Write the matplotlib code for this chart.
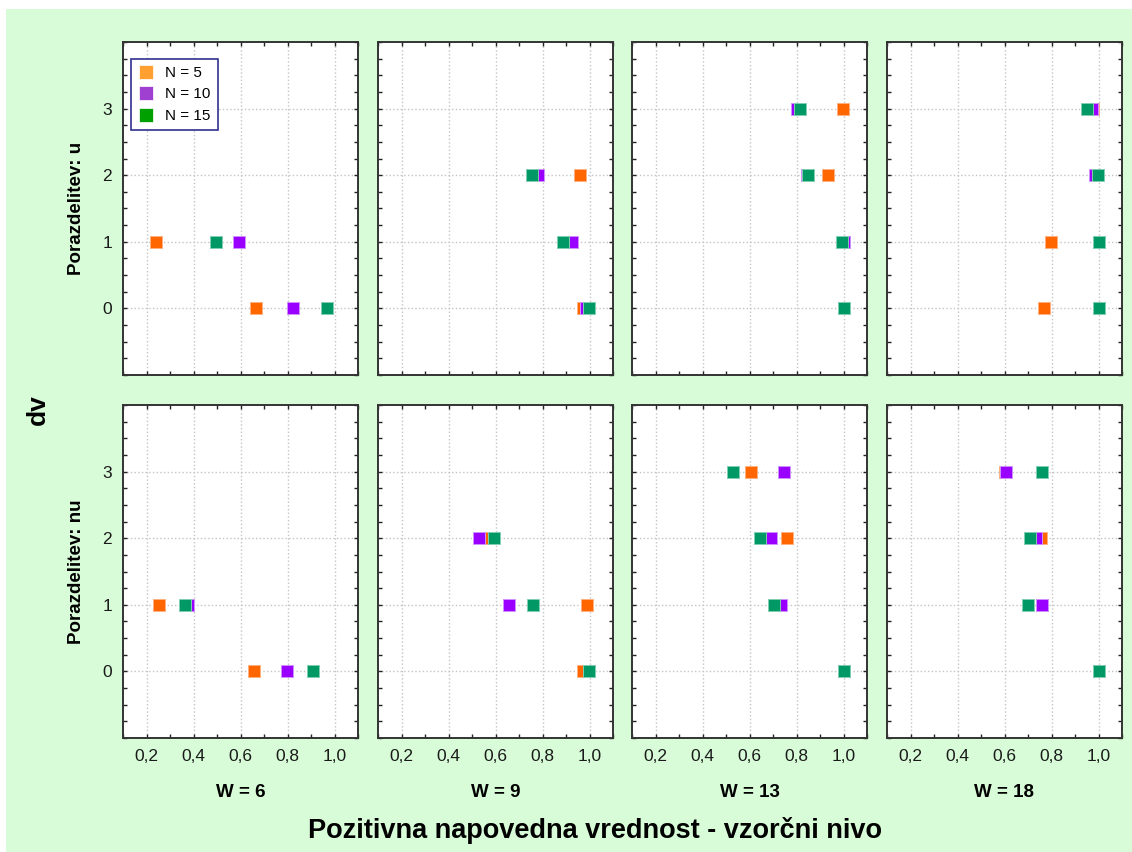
import numpy as np
import matplotlib.pyplot as plt
from matplotlib.lines import Line2D
from matplotlib.patches import Rectangle
from matplotlib.ticker import FixedLocator, MultipleLocator

plt.rcParams['font.family'] = ['Liberation Sans', 'DejaVu Sans']

####  data  ####
widths = [6, 9, 13, 18]
dists = ['u', 'nu']
n_labels = ['N = 5', 'N = 10', 'N = 15']

# one list per W, values for dv = 0, 1, 2, 3
n5_u = [[0.664, 0.241], [0.971, 0.905, 0.959], [1.0, 1.0, 0.933, 0.997], [0.767, 0.799, 0.990, 0.976]]
n10_u = [[0.825, 0.594], [0.984, 0.926, 0.779], [1.0, 1.0, 0.843, 0.804], [1.0, 1.0, 0.985, 0.972]]
n15_u = [[0.970, 0.497], [0.996, 0.889, 0.754], [1.0, 0.993, 0.849, 0.817], [1.0, 1.0, 0.997, 0.953]]

n5_nu = [[0.658, 0.254], [0.971, 0.990, 0.541], [1.0, 0.720, 0.760, 0.606], [1.0, 0.760, 0.754, 0.600]]
n10_nu = [[0.799, 0.376], [0.996, 0.658, 0.529], [1.0, 0.735, 0.691, 0.746], [1.0, 0.760, 0.735, 0.607]]
n15_nu = [[0.908, 0.364], [0.996, 0.760, 0.592], [1.0, 0.703, 0.645, 0.529], [1.0, 0.702, 0.709, 0.760]]

series = {'u': [n5_u, n10_u, n15_u], 'nu': [n5_nu, n10_nu, n15_nu]}

colors = ['#ff6600', '#9900ff', '#009966']
edge_colors = ['#ffb080', '#d090ff', '#80d0b0']
legend_colors = ['#ffa030', '#a040d0', '#00a000']

####  figure  ####
fig = plt.figure(figsize=(11.32, 8.52), dpi=100, facecolor='white')
fig.patches.append(Rectangle((6 / 1132, 0), 1, 1 - 9 / 852, transform=fig.transFigure,
                             facecolor='#d8fcd8', edgecolor='none', zorder=-10))

col_left = [123, 378, 632, 887]
row_top = [42, 405]
ax_w, ax_h = 235, 333

for r, dist in enumerate(dists):
    for c, w in enumerate(widths):
        x0 = col_left[c] / 1132
        y0 = 1 - (row_top[r] + ax_h) / 852
        ax = fig.add_axes([x0, y0, ax_w / 1132, ax_h / 852])
        ax.set_facecolor('white')
        for k in range(3):
            vals = series[dist][k][c]
            ax.plot(vals, np.arange(len(vals)), 's', ls='none', color=colors[k],
                    ms=8.6, mec=edge_colors[k], mew=0.7, zorder=3 + k)
        ax.set_xlim(0.1, 1.1)
        ax.set_ylim(-1, 4)
        ax.xaxis.set_major_locator(FixedLocator([0.2, 0.4, 0.6, 0.8, 1.0]))
        ax.xaxis.set_minor_locator(MultipleLocator(0.1))
        ax.yaxis.set_major_locator(FixedLocator([0, 1, 2, 3]))
        ax.yaxis.set_minor_locator(MultipleLocator(0.25))
        ax.tick_params(which='both', direction='in', top=True, right=True,
                       length=3, width=1, color='#222222', labelsize=12.5,
                       labelcolor='#1a1a1a', pad=8)
        ax.grid(True, which='major', color='#c4c4c4', ls=':', lw=1.0)
        for sp in ax.spines.values():
            sp.set_color('#333333')
            sp.set_linewidth(1.4)
        if r == 1:
            ax.set_xticklabels(['0,2', '0,4', '0,6', '0,8', '1,0'])
            ax.set_xlabel('W = %d' % w, fontsize=13.5, fontweight='bold', labelpad=14)
        else:
            ax.set_xticklabels([])
        if c == 0:
            ax.set_yticklabels(['0', '1', '2', '3'])
            ax.set_ylabel('Porazdelitev: %s' % dist, fontsize=13.5, fontweight='bold', labelpad=12)
        else:
            ax.set_yticklabels([])
        if r == 0 and c == 0:
            handles = [Line2D([], [], marker='s', ls='none', color=legend_colors[k],
                              ms=9.5, mec='white', mew=0.5) for k in range(3)]
            leg = ax.legend(handles, n_labels, loc='upper left', bbox_to_anchor=(0.034, 0.949),
                            borderaxespad=0, fontsize=11, handlelength=1.0, handletextpad=0.8,
                            labelspacing=0.5, borderpad=0.45, fancybox=False, framealpha=1)
            leg.get_frame().set_edgecolor('#303090')
            leg.get_frame().set_linewidth(1.2)

fig.text(38 / 1132, 1 - 410 / 852, 'dv', fontsize=19, fontweight='bold',
         rotation=90, ha='center', va='center')
fig.text(595 / 1132, 1 - 830 / 852, 'Pozitivna napovedna vrednost - vzorčni nivo',
         fontsize=19.5, fontweight='bold', ha='center', va='center')

fig.savefig('out.png', dpi=100, facecolor=fig.get_facecolor())
